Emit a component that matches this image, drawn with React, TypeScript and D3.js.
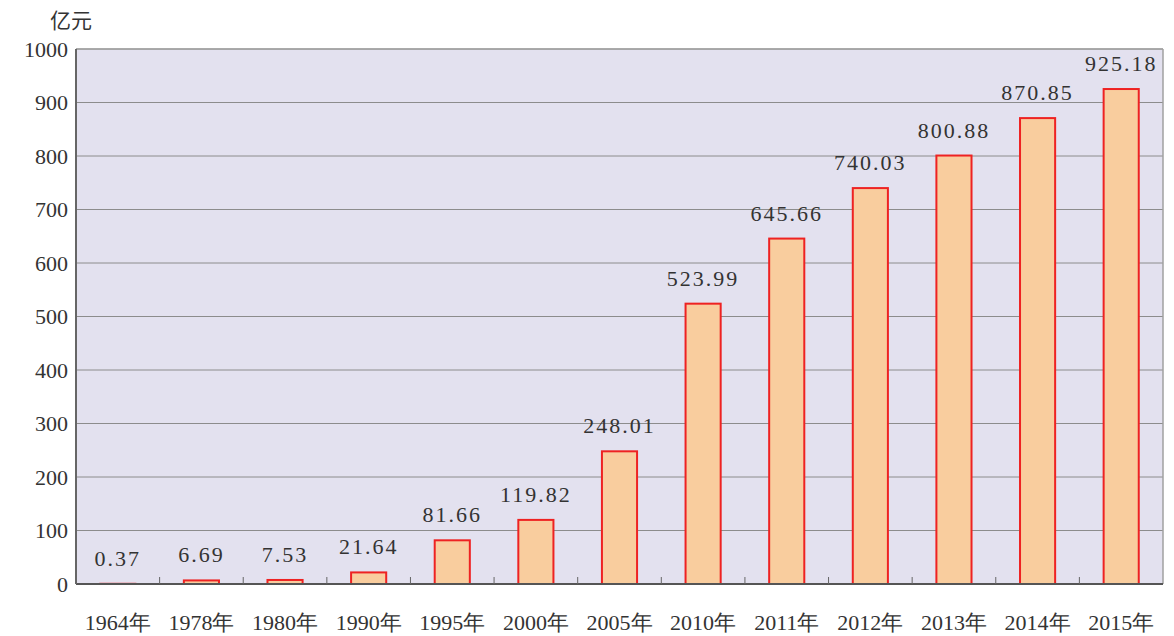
import { useEffect, useRef } from "react";
import * as d3 from "d3";

const years = ["1964年", "1978年", "1980年", "1990年", "1995年", "2000年", "2005年", "2010年", "2011年", "2012年", "2013年", "2014年", "2015年"];
const values = [0.37, 6.69, 7.53, 21.64, 81.66, 119.82, 248.01, 523.99, 645.66, 740.03, 800.88, 870.85, 925.18];
const yTicks = [0, 100, 200, 300, 400, 500, 600, 700, 800, 900, 1000];

const App = () => {
  const ref = useRef<SVGSVGElement | null>(null);

  useEffect(() => {
    const W = 1174;
    const H = 636;
    const margin = { top: 49, right: 11, bottom: 52, left: 76 };
    const width = W - margin.left - margin.right;
    const height = H - margin.top - margin.bottom;
    const font = "Liberation Serif, DejaVu Serif, serif";

    const svg = d3.select(ref.current);
    svg.selectAll("*").remove();

    const x = d3.scaleBand().domain(years).range([0, width]).padding(0);
    const y = d3.scaleLinear().domain([0, 1000]).range([height, 0]);
    const barW = x.bandwidth() * 0.42;

    const g = svg.append("g").attr("transform", "translate(" + margin.left + "," + margin.top + ")");

    g.append("rect")
      .attr("width", width)
      .attr("height", height)
      .attr("fill", "#e3e1ef");

    // gridlines
    g.selectAll(".grid")
      .data(yTicks.slice(1))
      .enter()
      .append("line")
      .attr("x1", 0)
      .attr("x2", width)
      .attr("y1", (d) => y(d))
      .attr("y2", (d) => y(d))
      .attr("stroke", "#8c8c8c")
      .attr("stroke-width", 1);

    // frame: top/right light, left/bottom dark
    g.append("line").attr("x1", 0).attr("x2", width).attr("y1", 0).attr("y2", 0).attr("stroke", "#a0a0a0").attr("stroke-width", 1.5);
    g.append("line").attr("x1", width).attr("x2", width).attr("y1", 0).attr("y2", height).attr("stroke", "#a0a0a0").attr("stroke-width", 1.5);

    g.selectAll(".bar")
      .data(values)
      .enter()
      .append("rect")
      .attr("x", (d, i) => (x(years[i]) as number) + (x.bandwidth() - barW) / 2)
      .attr("y", (d) => y(d))
      .attr("width", barW)
      .attr("height", (d) => height - y(d))
      .attr("fill", "#f9cd9e")
      .attr("stroke", "#ee2222")
      .attr("stroke-width", 2);

    g.selectAll(".val")
      .data(values)
      .enter()
      .append("text")
      .attr("x", (d, i) => (x(years[i]) as number) + x.bandwidth() / 2)
      .attr("y", (d) => y(d) - 18)
      .attr("text-anchor", "middle")
      .attr("font-family", font)
      .attr("font-size", 22)
      .attr("letter-spacing", 2)
      .attr("fill", "#333")
      .text((d) => d.toFixed(2));

    // bottom and left axis lines
    g.append("line").attr("x1", 0).attr("x2", width).attr("y1", height).attr("y2", height).attr("stroke", "#555").attr("stroke-width", 2);
    g.append("line").attr("x1", 0).attr("x2", 0).attr("y1", 0).attr("y2", height).attr("stroke", "#666").attr("stroke-width", 2);

    g.selectAll(".tick")
      .data(years.slice(1))
      .enter()
      .append("line")
      .attr("x1", (d) => x(d) as number)
      .attr("x2", (d) => x(d) as number)
      .attr("y1", height)
      .attr("y2", height - 7)
      .attr("stroke", "#666")
      .attr("stroke-width", 1);

    g.selectAll(".xlab")
      .data(years)
      .enter()
      .append("text")
      .attr("x", (d) => (x(d) as number) + x.bandwidth() / 2)
      .attr("y", height + 46)
      .attr("text-anchor", "middle")
      .attr("font-family", font)
      .attr("font-size", 22)
      .attr("fill", "#333")
      .text((d) => d);

    g.selectAll(".ylab")
      .data(yTicks)
      .enter()
      .append("text")
      .attr("x", -8)
      .attr("y", (d) => y(d))
      .attr("dy", "0.35em")
      .attr("text-anchor", "end")
      .attr("font-family", font)
      .attr("font-size", 22)
      .attr("fill", "#333")
      .text((d) => d);

    svg.append("text")
      .attr("x", 50)
      .attr("y", 28)
      .attr("font-family", "Noto Sans CJK SC, sans-serif")
      .attr("font-size", 21)
      .attr("fill", "#333")
      .text("亿元");
  }, []);

  return (
    <svg
      ref={ref}
      width={1174}
      height={636}
      style={{ position: "absolute", left: 0, top: 0, background: "#fff" }}
    />
  );
};

export default App;
